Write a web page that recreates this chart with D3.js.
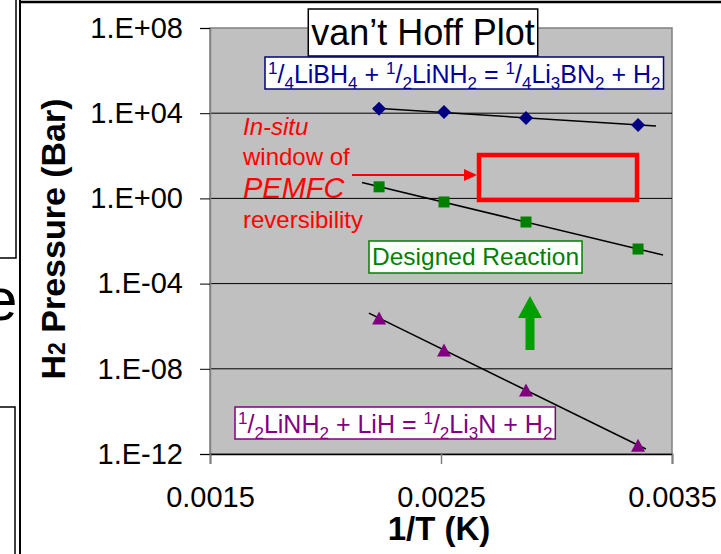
<!DOCTYPE html>
<html>
<head>
<meta charset="utf-8">
<script src="https://cdn.jsdelivr.net/npm/d3@7"></script>
<style>
  body { margin: 0; background: white; }
  svg { display: block; font-family: 'Liberation Sans', Arial, sans-serif; }
</style>
</head>
<body>
<script>
// 1/T values of the four measurements (K^-1)
const invT = [0.002232, 0.002513, 0.002868, 0.003353]

// H2 pressure (bar) for each reaction
const borohydride = [1.6e4, 1.15e4, 5.9e3, 2.8e3]
const designed = [3.5, 0.68, 0.078, 0.0042]
const amide = [2.4e-6, 7.6e-8, 1.0e-9, 2.6e-12]

// x span of each trendline
const borohydrideFit = [0.002206, 0.003431]
const designedFit = [0.002158, 0.003461]
const amideFit = [0.002188, 0.003387]

const xTicks = [0.0015, 0.0025, 0.0035]
const yTicks = [1e8, 1e4, 1, 1e-4, 1e-8, 1e-12]

const series = [
    { name: 'borohydride', values: borohydride, fit: borohydrideFit, color: '#000080', marker: 'diamond' },
    { name: 'designed', values: designed, fit: designedFit, color: '#008000', marker: 'square' },
    { name: 'amide', values: amide, fit: amideFit, color: '#800080', marker: 'triangle' }
]

const W = 721, H = 554
const plot = { left: 210, right: 672, top: 28, bottom: 454 }

const svg = d3.select('body').append('svg')
    .attr('width', W)
    .attr('height', H)

// slide frame bits around the chart
svg.append('line').attr('x1', 20).attr('x2', W).attr('y1', 2).attr('y2', 2)
    .attr('stroke', 'black').attr('stroke-width', 2.5)
svg.append('line').attr('x1', 20).attr('x2', 20).attr('y1', 0).attr('y2', H)
    .attr('stroke', 'black').attr('stroke-width', 2)
svg.append('path').attr('d', 'M0,258H16V0').attr('fill', 'none')
    .attr('stroke', 'black').attr('stroke-width', 1.5)
svg.append('path').attr('d', 'M0,407H15V554').attr('fill', 'none')
    .attr('stroke', 'black').attr('stroke-width', 1.5)
svg.append('text').attr('x', -16).attr('y', 320)
    .style('font-size', '60px').text('e')

const x = d3.scaleLinear()
    .domain([0.0015, 0.0035])
    .range([plot.left, plot.right])

const y = d3.scaleLog()
    .domain([1e-12, 1e8])
    .range([plot.bottom, plot.top])

const fmtExp = d => {
    const e = Math.round(Math.log10(d))
    return '1.E' + (e < 0 ? '-' : '+') + String(Math.abs(e)).padStart(2, '0')
}

// plot area
svg.append('rect')
    .attr('x', plot.left)
    .attr('y', plot.top)
    .attr('width', plot.right - plot.left)
    .attr('height', plot.bottom - plot.top)
    .attr('fill', '#c0c0c0')
    .attr('stroke', '#808080')
    .attr('stroke-width', 1.5)

svg.append('g')
    .selectAll('line')
    .data(yTicks.slice(1, -1))
    .enter().append('line')
    .attr('x1', plot.left)
    .attr('x2', plot.right)
    .attr('y1', d => y(d))
    .attr('y2', d => y(d))
    .attr('stroke', 'black')
    .attr('stroke-width', 1)

const yAxis = svg.append('g')
    .attr('transform', `translate(${plot.left}, 0)`)
    .call(d3.axisLeft(y).tickValues(yTicks).tickFormat(fmtExp).tickSize(10).tickPadding(17))
yAxis.select('.domain').attr('stroke', '#808080').attr('stroke-width', 1.5)
yAxis.selectAll('text')
    .style('font-size', '29px')
    .style('font-family', "'Liberation Sans', Arial, sans-serif")
    .attr('fill', 'black')

const xAxis = svg.append('g')
    .attr('transform', `translate(0, ${plot.bottom})`)
    .call(d3.axisBottom(x).tickValues(xTicks).tickFormat(d3.format('.4f')).tickSize(10).tickPadding(22))
xAxis.select('.domain').attr('stroke', 'black').attr('stroke-width', 1.5)
xAxis.selectAll('line').attr('stroke', '#808080').attr('stroke-width', 1.5)
xAxis.selectAll('text')
    .style('font-size', '29px')
    .style('font-family', "'Liberation Sans', Arial, sans-serif")
    .attr('fill', 'black')

// axis titles
const yTitle = svg.append('text')
    .attr('transform', 'translate(65, 239) rotate(-90)')
    .attr('text-anchor', 'middle')
    .style('font-size', '34px')
    .style('font-weight', 'bold')
yTitle.append('tspan').text('H')
yTitle.append('tspan').style('font-size', '23px').text('2')
yTitle.append('tspan').text(' Pressure (Bar)')

svg.append('text')
    .attr('x', 439)
    .attr('y', 540)
    .attr('text-anchor', 'middle')
    .style('font-size', '33px')
    .style('font-weight', 'bold')
    .text('1/T (K)')

// trendlines: least squares on log10(P) vs 1/T
const fitLine = vals => {
    const ly = vals.map(Math.log10)
    const mx = d3.mean(invT), my = d3.mean(ly)
    const b = d3.sum(invT, (t, i) => (t - mx) * (ly[i] - my)) / d3.sum(invT, t => (t - mx) ** 2)
    const a = my - b * mx
    return t => Math.pow(10, a + b * t)
}

series.forEach(s => {
    const f = fitLine(s.values)
    svg.append('line')
        .attr('x1', x(s.fit[0]))
        .attr('y1', y(f(s.fit[0])))
        .attr('x2', x(s.fit[1]))
        .attr('y2', y(f(s.fit[1])))
        .attr('stroke', 'black')
        .attr('stroke-width', 1.5)
})

const shapes = {
    diamond: 'M0,-7L7,0L0,7L-7,0Z',
    square: 'M-5.5,-5.5H5.5V5.5H-5.5Z',
    triangle: 'M0,-6.5L7,6.5L-7,6.5Z'
}

series.forEach(s => {
    svg.append('g')
        .selectAll('path')
        .data(s.values)
        .enter().append('path')
        .attr('d', shapes[s.marker])
        .attr('transform', (d, i) => `translate(${x(invT[i])}, ${y(d)})`)
        .attr('fill', s.color)
})

// rich text with 1/4 style fractions and subscripts
const richText = (px, py, parts, size, color) => {
    const t = svg.append('text')
        .attr('x', px)
        .attr('y', py)
        .style('font-size', size + 'px')
        .attr('fill', color)
    let shift = 0
    parts.forEach(([str, kind]) => {
        const target = kind === 'sup' ? -size * 0.36 : kind === 'sub' ? size * 0.22 : 0
        t.append('tspan')
            .attr('dy', target - shift)
            .style('font-size', kind === 'n' ? size + 'px' : size * 0.68 + 'px')
            .text(str)
        shift = target
    })
    return t
}

const boxAround = (t, top, bottom, color, width) => {
    const bb = t.node().getBBox()
    svg.insert('rect', () => t.node())
        .attr('x', bb.x - 3)
        .attr('y', top)
        .attr('width', bb.width + 6)
        .attr('height', bottom - top)
        .attr('fill', 'white')
        .attr('stroke', color)
        .attr('stroke-width', width)
}

// title
const title = svg.append('text')
    .attr('x', 423)
    .attr('y', 45)
    .attr('text-anchor', 'middle')
    .style('font-size', '36px')
    .text('van’t Hoff Plot')
boxAround(title, 9, 56, 'black', 1.5)

const boroEq = richText(268, 83, [
    ['1', 'sup'], ['/', 'n'], ['4', 'sub'], ['LiBH', 'n'], ['4', 'sub'], [' + ', 'n'],
    ['1', 'sup'], ['/', 'n'], ['2', 'sub'], ['LiNH', 'n'], ['2', 'sub'], [' = ', 'n'],
    ['1', 'sup'], ['/', 'n'], ['4', 'sub'], ['Li', 'n'], ['3', 'sub'], ['BN', 'n'], ['2', 'sub'],
    [' + H', 'n'], ['2', 'sub']
], 25, '#000099')
boxAround(boroEq, 57, 89, '#000080', 1.5)

const amideEq = richText(238, 433, [
    ['1', 'sup'], ['/', 'n'], ['2', 'sub'], ['LiNH', 'n'], ['2', 'sub'], [' + LiH = ', 'n'],
    ['1', 'sup'], ['/', 'n'], ['2', 'sub'], ['Li', 'n'], ['3', 'sub'], ['N + H', 'n'], ['2', 'sub']
], 25, '#800080')
boxAround(amideEq, 407, 439, '#800080', 1.5)

const designedLabel = svg.append('text')
    .attr('x', 372)
    .attr('y', 265)
    .style('font-size', '24.5px')
    .attr('fill', '#008000')
    .text('Designed Reaction')
boxAround(designedLabel, 241, 273, '#008000', 1.5)

// PEMFC window annotation
const red = '#ff0000'
const note = [
    { text: 'In-situ', y: 135, size: 24, italic: true },
    { text: 'window of', y: 165, size: 24, italic: false },
    { text: 'PEMFC', y: 198, size: 29, italic: true },
    { text: 'reversibility', y: 228, size: 24, italic: false }
]
svg.append('g')
    .selectAll('text')
    .data(note)
    .enter().append('text')
    .attr('x', 243)
    .attr('y', d => d.y)
    .style('font-size', d => d.size + 'px')
    .style('font-style', d => d.italic ? 'italic' : 'normal')
    .attr('fill', red)
    .text(d => d.text)

svg.append('line')
    .attr('x1', 352).attr('y1', 175)
    .attr('x2', 466).attr('y2', 175)
    .attr('stroke', red)
    .attr('stroke-width', 2)
svg.append('path')
    .attr('d', 'M477,175L464,169L464,181Z')
    .attr('fill', red)

svg.append('rect')
    .attr('x', 479)
    .attr('y', 155)
    .attr('width', 158)
    .attr('height', 45)
    .attr('fill', 'none')
    .attr('stroke', red)
    .attr('stroke-width', 4.5)

// green up arrow
svg.append('path')
    .attr('d', 'M530,296L542,318L534.5,318L534.5,350L525.5,350L525.5,318L518,318Z')
    .attr('fill', '#009f00')
</script>
</body>
</html>
